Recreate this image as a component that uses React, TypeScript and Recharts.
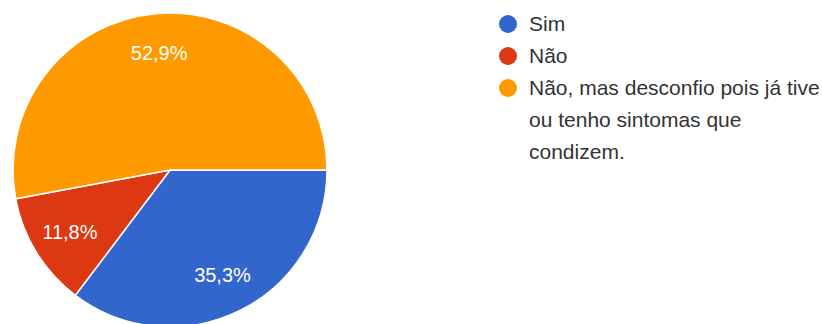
import React from "react";
import { PieChart, Pie, Cell, Legend } from "recharts";

const categories = ["Sim", "Não", "Não, mas desconfio pois já tive ou tenho sintomas que condizem."];
const legendLines = [["Sim"], ["Não"], ["Não, mas desconfio pois já tive", "ou tenho sintomas que", "condizem."]];
const values = [6, 2, 9];
const colors = ["#3366CC", "#DC3912", "#FF9900"];

const data = categories.map((name, i) => ({ name, value: values[i] }));

const RAD = Math.PI / 180;

const renderLabel = (props: any) => {
  const { cx, cy, midAngle, outerRadius, percent } = props;
  const r = outerRadius * 0.75;
  const x = cx + r * Math.cos(-midAngle * RAD);
  const y = cy + r * Math.sin(-midAngle * RAD);
  return (
    <text
      x={x}
      y={y}
      fill="#ffffff"
      textAnchor="middle"
      dominantBaseline="central"
      fontFamily="'Liberation Sans', Arial, sans-serif"
      fontSize={20}
    >
      {(percent * 100).toFixed(1).replace(".", ",") + "%"}
    </text>
  );
};

const LegendContent = () => (
  <div style={{ fontFamily: "'Liberation Sans', Arial, sans-serif", fontSize: 21, color: "#333", lineHeight: "32px" }}>
    {legendLines.map((lines, i) => (
      <div key={i} style={{ position: "relative", paddingLeft: 30 }}>
        <span
          style={{
            position: "absolute",
            left: 0,
            top: 7,
            width: 18,
            height: 18,
            borderRadius: 9,
            background: colors[i],
          }}
        />
        {lines.map((l, j) => (
          <div key={j} style={{ whiteSpace: "nowrap" }}>{l}</div>
        ))}
      </div>
    ))}
  </div>
);

export default function App() {
  return (
    <div style={{ position: "fixed", left: 0, top: 0, width: 822, height: 324, background: "#fff" }}>
      <PieChart width={822} height={324} margin={{ top: 0, right: 0, bottom: 0, left: 0 }}>
        <Pie
          data={data}
          dataKey="value"
          nameKey="name"
          cx={170}
          cy={170}
          outerRadius={157}
          startAngle={0}
          endAngle={-360}
          stroke="#ffffff"
          strokeWidth={1.5}
          label={renderLabel}
          labelLine={false}
          isAnimationActive={false}
        >
          {data.map((d, i) => (
            <Cell key={d.name} fill={colors[i]} />
          ))}
        </Pie>
        <Legend
          content={<LegendContent />}
          wrapperStyle={{ position: "absolute", left: 499, top: 8, width: 323 }}
        />
      </PieChart>
    </div>
  );
}
